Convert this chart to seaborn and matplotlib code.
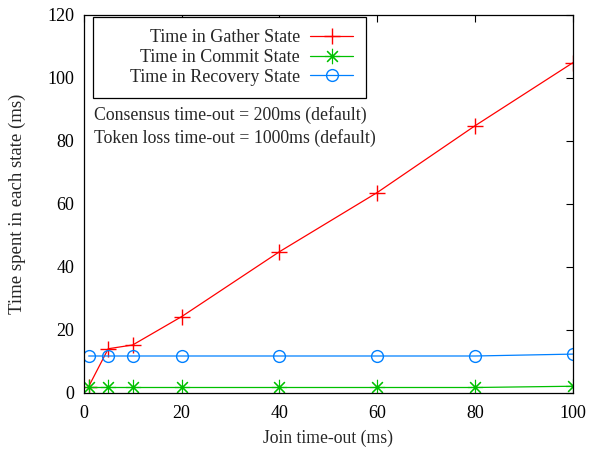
import pandas as pd
import matplotlib
matplotlib.use("Agg")
import matplotlib.pyplot as plt
import seaborn as sns

# values
join_timeout = [1, 5, 10, 20, 40, 60, 80, 100]
gather = [2.0, 14.0, 15.2, 24.2, 44.8, 63.6, 84.8, 104.8]
commit = [1.7, 1.7, 1.7, 1.7, 1.7, 1.7, 1.7, 2.1]
recovery = [11.7, 11.7, 11.7, 11.7, 11.7, 11.7, 11.7, 12.3]

labels = ["Time in Gather State", "Time in Commit State", "Time in Recovery State"]
colors = ["#ff0000", "#00c000", "#0080ff"]
markers = ["+", (8, 2, 0), "o"]

df = pd.DataFrame({"x": join_timeout * 3,
                   "y": gather + commit + recovery,
                   "series": [labels[0]] * 8 + [labels[1]] * 8 + [labels[2]] * 8})

sns.set_style("white")
plt.rcParams["font.family"] = ["Liberation Serif", "DejaVu Serif"]

fig = plt.figure(figsize=(5.9, 4.5), dpi=100)
ax = fig.add_axes([0.142, 0.127, 0.829, 0.84])

for lab, col, mk in zip(labels, colors, markers):
    sub = df[df["series"] == lab]
    if mk == "o":
        kw = dict(markerfacecolor="none", markersize=8.5)
    elif mk == "+":
        kw = dict(markersize=12)
    else:
        kw = dict(markersize=11, markeredgewidth=0.8)
    kw.setdefault("markeredgewidth", 1.0)
    sns.lineplot(data=sub, x="x", y="y", ax=ax, color=col, marker=mk, linewidth=0.9,
                 markeredgecolor=col, label=lab, **kw)

ax.set_xlim(0, 100)
ax.set_ylim(0, 120)
ax.set_xticks([0, 20, 40, 60, 80, 100])
ax.set_yticks([0, 20, 40, 60, 80, 100, 120])
ax.tick_params(direction="in", top=True, right=True, length=5, width=0.8,
               labelsize=13, colors="black")
ax.tick_params(axis="x", pad=9)
ax.tick_params(axis="y", pad=7)
for s in ax.spines.values():
    s.set_color("black")
    s.set_linewidth(0.9)

ax.set_xlabel("Join time-out (ms)", fontsize=12.7, labelpad=5)
ax.set_ylabel("Time spent in each state (ms)", fontsize=13.5, labelpad=15)

leg = ax.legend(loc="upper left", markerfirst=False, fancybox=False, edgecolor="black",
                framealpha=1, fontsize=13, borderaxespad=0.0, handlelength=2.4,
                handletextpad=0.55, labelspacing=0.15, borderpad=0.7,
                bbox_to_anchor=(0.018, 0.995))
leg.get_frame().set_linewidth(0.9)
# widen the key box like gnuplot does, entries stay right aligned
try:
    for col_box in leg._legend_handle_box.get_children():
        col_box.width = 248
except AttributeError:
    pass

ax.text(0.02, 0.735, "Consensus time-out = 200ms (default)", transform=ax.transAxes,
        fontsize=12.8, va="center")
ax.text(0.02, 0.674, "Token loss time-out = 1000ms (default)", transform=ax.transAxes,
        fontsize=12.8, va="center")

fig.savefig("out.png", dpi=100)
